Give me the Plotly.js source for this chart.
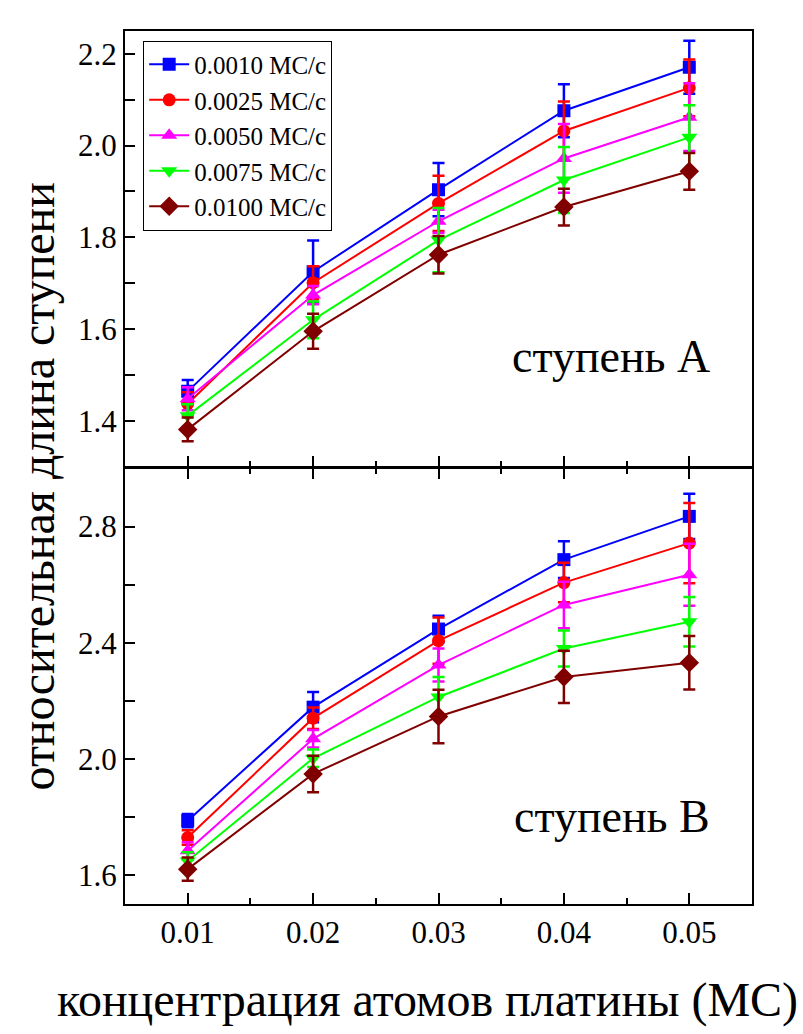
<!DOCTYPE html>
<html>
<head>
<meta charset="utf-8">
<script src="https://cdn.plot.ly/plotly-3.0.1.min.js"></script>
<style>html,body{margin:0;padding:0;background:#fff;}</style>
</head>
<body>
<div id="chart" style="width:803px;height:1034px;"></div>
<script>
// X values: Pt atom concentration (МС)
const concentrations = [0.01, 0.02, 0.03, 0.04, 0.05];
const seriesNames = ['0.0010 МС/с', '0.0025 МС/с', '0.0050 МС/с', '0.0075 МС/с', '0.0100 МС/с'];
const seriesColors = ['#0000FF', '#FF0000', '#FF00FF', '#00FF00', '#800000'];
const seriesSymbols = ['square', 'circle', 'triangle-up', 'triangle-down', 'diamond'];

// Step A (top panel)
const stepA_0010 = [1.464, 1.725, 1.904, 2.076, 2.171];
const stepA_0025 = [1.437, 1.701, 1.874, 2.032, 2.126];
const stepA_0050 = [1.448, 1.674, 1.835, 1.972, 2.062];
const stepA_0075 = [1.411, 1.620, 1.794, 1.925, 2.018];
const stepA_0100 = [1.381, 1.595, 1.762, 1.866, 1.944];
const errA_0010 = [0.025, 0.068, 0.058, 0.058, 0.058];
const errA_0025 = [0.025, 0.036, 0.060, 0.064, 0.062];
const errA_0050 = [0.025, 0.020, 0.025, 0.075, 0.074];
const errA_0075 = [0.025, 0.040, 0.070, 0.072, 0.070];
const errA_0100 = [0.026, 0.038, 0.041, 0.040, 0.040];

// Step B (bottom panel)
const stepB_0010 = [1.787, 2.178, 2.447, 2.686, 2.835];
const stepB_0025 = [1.729, 2.140, 2.407, 2.607, 2.743];
const stepB_0050 = [1.683, 2.069, 2.323, 2.530, 2.634];
const stepB_0075 = [1.648, 2.002, 2.213, 2.380, 2.472];
const stepB_0100 = [1.620, 1.948, 2.146, 2.282, 2.331];
const errB_0010 = [0.023, 0.052, 0.046, 0.063, 0.078];
const errB_0025 = [0.025, 0.037, 0.080, 0.068, 0.138];
const errB_0050 = [0.030, 0.030, 0.057, 0.080, 0.107];
const errB_0075 = [0.030, 0.030, 0.069, 0.062, 0.085];
const errB_0100 = [0.040, 0.063, 0.092, 0.090, 0.092];

const stepA = [stepA_0010, stepA_0025, stepA_0050, stepA_0075, stepA_0100];
const errA = [errA_0010, errA_0025, errA_0050, errA_0075, errA_0100];
const stepB = [stepB_0010, stepB_0025, stepB_0050, stepB_0075, stepB_0100];
const errB = [errB_0010, errB_0025, errB_0050, errB_0075, errB_0100];

const FONT = 'Liberation Serif';
const traces = [];
function addTrace(i, ys, es, xa, ya, show) {
  traces.push({
    x: concentrations, y: ys, xaxis: xa, yaxis: ya,
    type: 'scatter', mode: 'lines+markers',
    name: seriesNames[i], showlegend: show, legendgroup: 'g' + i,
    line: {color: seriesColors[i], width: 2},
    marker: {symbol: seriesSymbols[i], color: seriesColors[i], size: seriesSymbols[i].indexOf('triangle') === 0 ? 14 : (seriesSymbols[i] === 'diamond' ? 15 : 13)},
    error_y: {type: 'data', array: es, visible: true, color: seriesColors[i], thickness: 2.5, width: 6}
  });
}
for (let i = 0; i < 5; i++) addTrace(i, stepA[i], errA[i], 'x2', 'y2', true);
for (let i = 0; i < 5; i++) addTrace(i, stepB[i], errB[i], 'x', 'y', false);

const tickFont = {family: FONT, size: 31, color: '#000'};
const xCommon = {
  range: [0.005, 0.055], tick0: 0, dtick: 0.01, ticks: 'inside', ticklen: 11, tickwidth: 2,
  tickcolor: '#000', showline: true, linecolor: '#000', linewidth: 2, showgrid: false, zeroline: false,
  minor: {dtick: 0.005, ticks: 'inside', ticklen: 6, tickwidth: 2, tickcolor: '#000', showgrid: false},
  tickfont: tickFont
};
const layout = {
  width: 803, height: 1034,
  margin: {l: 125, r: 51, t: 31, b: 130},
  paper_bgcolor: '#fff', plot_bgcolor: '#fff',
  font: {family: FONT, color: '#000'},
  xaxis: Object.assign({}, xCommon, {anchor: 'y', mirror: 'allticks', tickformat: '.2f'}),
  xaxis2: Object.assign({}, xCommon, {anchor: 'y2', matches: 'x', mirror: true, showticklabels: false}),
  yaxis: {
    domain: [0, 0.4989], range: [1.5, 3.0], tick0: 0, dtick: 0.4, tickformat: '.1f',
    ticks: 'inside', ticklen: 10, tickwidth: 2, tickcolor: '#000',
    minor: {dtick: 0.2, ticks: 'inside', ticklen: 10, tickwidth: 2, tickcolor: '#000', showgrid: false},
    showline: true, linecolor: '#000', linewidth: 2, mirror: true, showgrid: false, zeroline: false,
    tickfont: tickFont, anchor: 'x'
  },
  yaxis2: {
    domain: [0.5011, 1], range: [1.3, 2.25], tick0: 0, dtick: 0.2, tickformat: '.1f',
    ticks: 'inside', ticklen: 10, tickwidth: 2, tickcolor: '#000',
    minor: {dtick: 0.1, ticks: 'inside', ticklen: 10, tickwidth: 2, tickcolor: '#000', showgrid: false},
    showline: true, linecolor: '#000', linewidth: 2, mirror: true, showgrid: false, zeroline: false,
    tickfont: tickFont, anchor: 'x2'
  },
  legend: {
    x: 0.029, y: 0.989, xanchor: 'left', yanchor: 'top',
    bgcolor: '#fff', bordercolor: '#000', borderwidth: 1,
    font: {family: FONT, size: 25, color: '#000'},
    itemwidth: 40, tracegroupgap: 0
  },
  annotations: [
    {text: 'ступень A', xref: 'x2', yref: 'y2', x: 0.0518, y: 1.54, xanchor: 'right', yanchor: 'middle',
     showarrow: false, font: {family: FONT, size: 46, color: '#000'}},
    {text: 'ступень B', xref: 'x', yref: 'y', x: 0.0518, y: 1.80, xanchor: 'right', yanchor: 'middle',
     showarrow: false, font: {family: FONT, size: 46, color: '#000'}},
    {text: 'концентрация атомов платины (МС)', xref: 'paper', yref: 'paper', x: 0.483, y: -0.11,
     xanchor: 'center', yanchor: 'middle', showarrow: false, font: {family: FONT, size: 48, color: '#000'}},
    {text: 'относительная длина ступени', xref: 'paper', yref: 'paper', x: -0.14, y: 0.4785,
     xanchor: 'center', yanchor: 'middle', textangle: -90, showarrow: false,
     font: {family: FONT, size: 48, color: '#000'}}
  ]
};
Plotly.newPlot('chart', traces, layout, {displayModeBar: false, staticPlot: true});
</script>
</body>
</html>
